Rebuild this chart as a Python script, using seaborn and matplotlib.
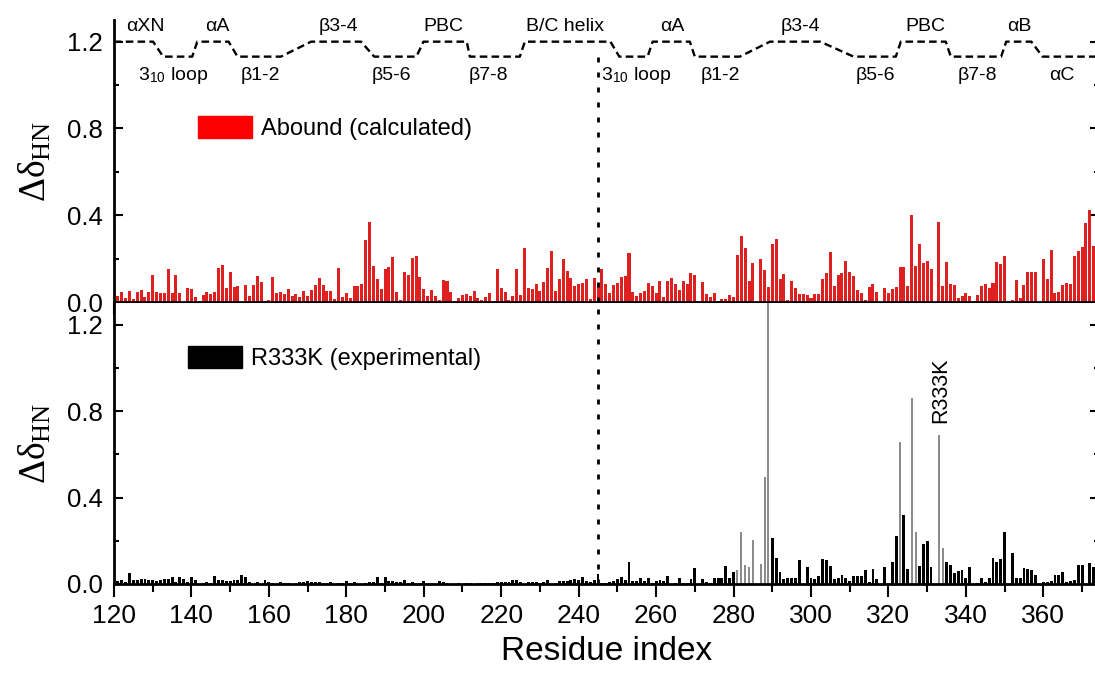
import numpy as np
import pandas as pd
import matplotlib
matplotlib.use('Agg')
import matplotlib.pyplot as plt
from matplotlib.patches import Patch
from matplotlib.ticker import MultipleLocator
import seaborn as sns

# residue numbers (both panels share them)
residues = np.arange(120, 375)

# calculated shifts, Abound (top panel), residues 120..374
abound = [
    0.125, 0.028, 0.046, 0.017, 0.050, 0.014, 0.046, 0.054, 0.023, 0.046,
    0.123, 0.046, 0.040, 0.040, 0.152, 0.042, 0.123, 0.043, 0.000, 0.065,
    0.060, 0.023, 0.006, 0.032, 0.046, 0.035, 0.045, 0.157, 0.170, 0.065,
    0.138, 0.069, 0.075, 0.000, 0.078, 0.029, 0.077, 0.118, 0.091, 0.006,
    0.009, 0.115, 0.042, 0.046, 0.037, 0.058, 0.028, 0.035, 0.023, 0.052,
    0.028, 0.055, 0.078, 0.111, 0.078, 0.050, 0.050, 0.012, 0.157, 0.025,
    0.043, 0.017, 0.074, 0.074, 0.082, 0.286, 0.368, 0.166, 0.106, 0.058,
    0.151, 0.160, 0.208, 0.048, 0.009, 0.138, 0.123, 0.203, 0.211, 0.114,
    0.058, 0.026, 0.055, 0.028, 0.008, 0.102, 0.097, 0.046, 0.000, 0.018,
    0.031, 0.037, 0.028, 0.049, 0.020, 0.008, 0.023, 0.040, 0.000, 0.152,
    0.065, 0.046, 0.009, 0.029, 0.152, 0.032, 0.251, 0.063, 0.058, 0.085,
    0.050, 0.092, 0.155, 0.234, 0.050, 0.106, 0.198, 0.143, 0.111, 0.074,
    0.083, 0.088, 0.108, 0.014, 0.111, 0.078, 0.151, 0.082, 0.040, 0.077,
    0.086, 0.114, 0.118, 0.228, 0.046, 0.028, 0.040, 0.050, 0.086, 0.072,
    0.040, 0.097, 0.022, 0.095, 0.112, 0.083, 0.054, 0.097, 0.082, 0.132,
    0.125, 0.000, 0.092, 0.037, 0.022, 0.043, 0.006, 0.014, 0.012, 0.032,
    0.022, 0.217, 0.306, 0.249, 0.097, 0.180, 0.000, 0.197, 0.146, 0.069,
    0.269, 0.291, 0.106, 0.128, 0.008, 0.095, 0.066, 0.035, 0.035, 0.032,
    0.020, 0.035, 0.035, 0.108, 0.134, 0.231, 0.072, 0.126, 0.135, 0.188,
    0.137, 0.118, 0.055, 0.042, 0.008, 0.068, 0.083, 0.045, 0.000, 0.066,
    0.043, 0.062, 0.068, 0.160, 0.163, 0.072, 0.400, 0.168, 0.266, 0.180,
    0.188, 0.151, 0.000, 0.368, 0.072, 0.185, 0.085, 0.078, 0.018, 0.026,
    0.043, 0.029, 0.000, 0.031, 0.072, 0.083, 0.065, 0.086, 0.185, 0.174,
    0.211, 0.000, 0.008, 0.100, 0.018, 0.078, 0.140, 0.137, 0.137, 0.000,
    0.197, 0.106, 0.242, 0.040, 0.048, 0.077, 0.086, 0.083, 0.212, 0.237,
    0.252, 0.363, 0.426, 0.260, 0.292,
]

# experimental shifts, R333K (bottom panel), residues 120..374
r333k = [
    0.045, 0.015, 0.020, 0.010, 0.050, 0.020, 0.020, 0.025, 0.025, 0.020,
    0.020, 0.015, 0.020, 0.025, 0.025, 0.030, 0.010, 0.030, 0.025, 0.010,
    0.030, 0.020, 0.000, 0.005, 0.010, 0.005, 0.035, 0.020, 0.020, 0.015,
    0.015, 0.020, 0.020, 0.040, 0.030, 0.010, 0.000, 0.010, 0.000, 0.020,
    0.010, 0.005, 0.000, 0.010, 0.005, 0.005, 0.000, 0.005, 0.010, 0.010,
    0.015, 0.010, 0.010, 0.010, 0.005, 0.005, 0.010, 0.000, 0.005, 0.005,
    0.015, 0.005, 0.010, 0.000, 0.000, 0.005, 0.010, 0.010, 0.030, 0.005,
    0.030, 0.015, 0.015, 0.010, 0.010, 0.020, 0.005, 0.010, 0.005, 0.005,
    0.015, 0.005, 0.005, 0.000, 0.015, 0.010, 0.005, 0.000, 0.000, 0.005,
    0.000, 0.005, 0.005, 0.000, 0.005, 0.005, 0.005, 0.005, 0.005, 0.010,
    0.010, 0.010, 0.010, 0.020, 0.020, 0.010, 0.000, 0.010, 0.010, 0.010,
    0.005, 0.010, 0.020, 0.000, 0.005, 0.015, 0.015, 0.015, 0.020, 0.025,
    0.020, 0.030, 0.015, 0.010, 0.020, 0.045, 0.006, 0.006, 0.010, 0.015,
    0.023, 0.030, 0.020, 0.103, 0.012, 0.012, 0.029, 0.014, 0.029, 0.006,
    0.014, 0.018, 0.014, 0.037, 0.000, 0.003, 0.029, 0.006, 0.006, 0.025,
    0.072, 0.000, 0.025, 0.010, 0.006, 0.029, 0.029, 0.029, 0.085, 0.029,
    0.057, 0.065, 0.242, 0.088, 0.080, 0.203, 0.000, 0.091, 0.495, 1.350,
    0.215, 0.118, 0.054, 0.022, 0.026, 0.026, 0.029, 0.109, 0.000, 0.077,
    0.026, 0.023, 0.037, 0.114, 0.109, 0.085, 0.023, 0.029, 0.040, 0.029,
    0.014, 0.037, 0.037, 0.037, 0.065, 0.010, 0.071, 0.022, 0.000, 0.077,
    0.000, 0.102, 0.223, 0.655, 0.317, 0.071, 0.862, 0.240, 0.085, 0.186,
    0.198, 0.077, 0.000, 0.688, 0.168, 0.100, 0.086, 0.049, 0.058, 0.065,
    0.026, 0.077, 0.000, 0.006, 0.029, 0.010, 0.026, 0.122, 0.102, 0.117,
    0.242, 0.000, 0.142, 0.029, 0.029, 0.072, 0.071, 0.065, 0.042, 0.000,
    0.010, 0.010, 0.014, 0.040, 0.040, 0.057, 0.010, 0.014, 0.018, 0.088,
    0.088, 0.000, 0.095, 0.077, 0.290,
]

# residues drawn as thin grey bars in the experimental panel
grey_residues = [281, 282, 283, 284, 285, 287, 288, 289, 323, 326, 327, 333, 334]

# secondary structure trace: breakpoints and level (1 = upper, 0 = lower)
ss_x = [120, 130.1, 132.7, 140.2, 141.5, 149.6, 151.9, 163.1, 170.9, 183.8,
        187.2, 198.1, 199.9, 211.1, 211.9, 224.8, 226.1, 248.2, 250.5, 257.8,
        259.1, 268.7, 270.0, 281.6, 289.4, 302.4, 311.0, 321.9, 323.2, 334.8,
        336.1, 349.1, 350.4, 356.9, 359.8, 375]
ss_level = [1, 1, 0, 0, 1, 1, 0, 0, 1, 1, 0, 0, 1, 1, 0, 0, 1, 1,
            0, 0, 1, 1, 0, 0, 1, 1, 0, 0, 1, 1, 0, 0, 1, 1, 0, 0]
ss_upper_names = ['αXN', 'αA', 'β3-4', 'PBC', 'B/C helix', 'αA', 'β3-4', 'PBC', 'αB']
ss_upper_pos = [128, 146.7, 177.9, 205, 236.5, 264.3, 297.2, 329.6, 353.8]
ss_lower_names = ['3$_{\\mathsf{10}}$ loop', 'β1-2', 'β5-6', 'β7-8',
                  '3$_{\\mathsf{10}}$ loop', 'β1-2', 'β5-6', 'β7-8', 'αC']
ss_lower_pos = [135.2, 157.9, 191.6, 216.8, 254.7, 276.7, 316.7, 342.9, 364.7]

domain_split = 245

sns.set_style('ticks')
plt.rcParams['font.family'] = ['Liberation Sans', 'DejaVu Sans']
plt.rcParams['mathtext.fontset'] = 'custom'
plt.rcParams['mathtext.rm'] = 'Liberation Serif'
plt.rcParams['mathtext.it'] = 'Liberation Serif'
plt.rcParams['mathtext.sf'] = 'Liberation Sans'
for key in ('text.color', 'axes.labelcolor', 'xtick.color', 'ytick.color', 'axes.edgecolor'):
    plt.rcParams[key] = 'black'

top_df = pd.DataFrame({'residue': residues, 'shift': abound})
exp_df = pd.DataFrame({'residue': residues, 'shift': r333k})
exp_df['grey'] = exp_df['residue'].isin(grey_residues)

fig = plt.figure(figsize=(10.95, 6.77), dpi=100)
ax1 = fig.add_axes([0.1041, 0.5539, 0.9, 0.4166])
ax2 = fig.add_axes([0.1041, 0.1374, 0.9, 0.4150])

sns.barplot(data=top_df, x='residue', y='shift', color='#ff0000', native_scale=True,
            width=0.78, errorbar=None, linewidth=0, ax=ax1)
sns.barplot(data=exp_df[~exp_df['grey']], x='residue', y='shift', color='black',
            native_scale=True, width=0.75, errorbar=None, linewidth=0, ax=ax2)
sns.barplot(data=exp_df[exp_df['grey']], x='residue', y='shift', color='#8c8c8c',
            native_scale=True, width=0.5, errorbar=None, linewidth=0, ax=ax2)

# secondary structure trace
ss_y = [1.2 if lv else 1.131 for lv in ss_level]
ax1.plot(ss_x, ss_y, color='black', lw=1.7, dashes=(3.2, 1.8), clip_on=False)
for name, pos in zip(ss_upper_names, ss_upper_pos):
    ax1.text(pos, 1.268, name, ha='center', va='center', fontsize=14)
for name, pos in zip(ss_lower_names, ss_lower_pos):
    ax1.text(pos, 1.043, name, ha='center', va='center', fontsize=14)

# domain boundary
ax1.plot([domain_split, domain_split], [0, 1.177], color='black', lw=2,
         ls=(0, (1.8, 3.6)))
ax2.plot([domain_split, domain_split], [0, 1.3], color='black', lw=2,
         ls=(0, (1.8, 3.6)))

ax2.text(333.6, 0.895, 'R333K', rotation=90, ha='center', va='center', fontsize=15.5)

for ax in (ax1, ax2):
    ax.set_xlim(120, 374.5)
    ax.set_ylim(0, 1.3)
    ax.xaxis.set_major_locator(MultipleLocator(20))
    ax.xaxis.set_minor_locator(MultipleLocator(10))
    ax.yaxis.set_major_locator(MultipleLocator(0.4))
    ax.yaxis.set_minor_locator(MultipleLocator(0.2))
    ax.yaxis.set_major_formatter(plt.FormatStrFormatter('%.1f'))
    ax.tick_params(axis='x', which='major', direction='out', length=9.5, width=1.5,
                   labelsize=19, pad=5)
    ax.tick_params(axis='x', which='minor', direction='out', length=6, width=1.5)
    ax.tick_params(axis='y', which='major', direction='in', length=6.5, width=1.5,
                   labelsize=18.5, pad=8, right=True)
    ax.tick_params(axis='y', which='minor', direction='in', length=3.5, width=1.5,
                   right=True)
    for side in ('left', 'bottom'):
        ax.spines[side].set_linewidth(2)
    ax.spines['top'].set_visible(False)
    ax.spines['right'].set_visible(False)
    ax.set_ylabel(r'$\Delta\delta_{\mathrm{HN}}$', fontsize=27, labelpad=10)

ax1.tick_params(axis='x', labelbottom=False)
ax1.set_xlabel('')
ax2.set_xlabel('Residue index', fontsize=24, labelpad=6)

ax1.legend(handles=[Patch(color='#ff0000', label='Abound (calculated)')],
           loc='upper left', bbox_to_anchor=(0.1808, 0.8287), bbox_transform=fig.transFigure,
           frameon=False, fontsize=17, handlelength=2.3, handleheight=1.05,
           handletextpad=0.35, borderpad=0, borderaxespad=0)
ax2.legend(handles=[Patch(color='black', label='R333K (experimental)')],
           loc='upper left', bbox_to_anchor=(0.1717, 0.4889), bbox_transform=fig.transFigure,
           frameon=False, fontsize=17, handlelength=2.3, handleheight=1.05,
           handletextpad=0.35, borderpad=0, borderaxespad=0)

fig.savefig('out.png', dpi=100)
